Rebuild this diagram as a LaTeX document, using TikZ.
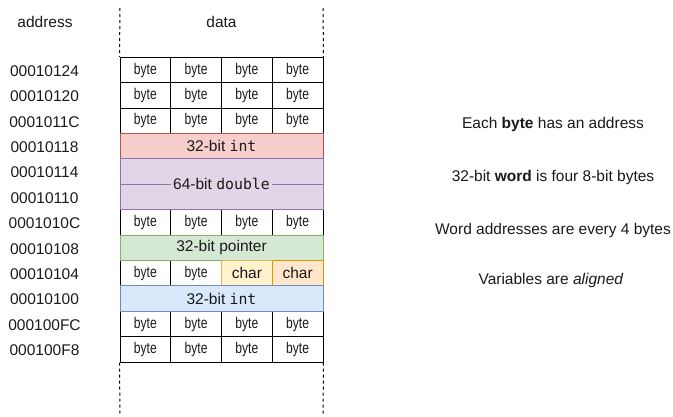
\documentclass[tikz,border=0pt]{standalone}
\usepackage{fontspec}
\setmainfont{Liberation Sans}
\newfontfamily\narrowfont[FakeStretch=0.78]{Liberation Sans}
\newfontfamily\codefont{DejaVu Sans Mono}
\definecolor{txt}{HTML}{1A1A1A}
\definecolor{redf}{HTML}{F8CECC}\definecolor{redd}{HTML}{B85450}
\definecolor{purf}{HTML}{E1D5E7}\definecolor{purd}{HTML}{9673A6}
\definecolor{grnf}{HTML}{D5E8D4}\definecolor{grnd}{HTML}{82B366}
\definecolor{yelf}{HTML}{FFF2CC}\definecolor{yeld}{HTML}{D6B656}
\definecolor{orf}{HTML}{FFE6CC}\definecolor{ord}{HTML}{D79B00}
\definecolor{bluf}{HTML}{DAE8FC}\definecolor{blud}{HTML}{6C8EBF}
\newcommand{\mainsize}{\fontsize{15.5}{18}\selectfont}
\newcommand{\codetxt}[1]{{\codefont\fontsize{14.8}{18}\selectfont #1}}
\begin{document}
\begin{tikzpicture}[x=1pt,y=-1pt,
  lbl/.style={inner sep=0pt, text=txt, font=\mainsize},
  cell/.style={draw=black, line width=1pt, minimum width=50.75pt, minimum height=25.4pt,
    inner sep=0pt, text=txt, font=\mainsize, anchor=center},
  bytecell/.style={cell, font=\mainsize\narrowfont},
  widecell/.style={cell, minimum width=203pt},
  guide/.style={draw=black, line width=1pt, dash pattern=on 3pt off 3pt}]
\useasboundingbox (0,0) rectangle (673,416);

% plain byte cells
\foreach \r in {0,1,2,6,10,11}{
  \foreach \c in {0,...,3}{
    \node[bytecell] (b\r-\c) at ({145.375+50.75*\c},{70+25.4*\r}) {byte};
  }
}
\node[bytecell] (b8-0) at (145.375,273.2) {byte};
\node[bytecell] (b8-1) at (196.125,273.2) {byte};

% coloured cells
\node[widecell, fill=redf, draw=redd] (int1) at (221.5,146.2) {32-bit \codetxt{int}};
\node[widecell, minimum height=50.8pt, fill=purf, draw=purd] (dbl) at (221.5,184.3) {};
\node[lbl, inner xsep=2pt] (dbllab) at (dbl.center) {64-bit \codetxt{double}};
\draw[purd, line width=1pt] (dbl.west) -- (dbllab.west);
\draw[purd, line width=1pt] (dbllab.east) -- (dbl.east);
\node[widecell, fill=grnf, draw=grnd] (ptr) at (221.5,247.8) {32-bit pointer};
\node[cell, fill=yelf, draw=yeld] (ch1) at (246.875,273.2) {char};
\node[cell, fill=orf, draw=ord] (ch2) at (297.625,273.2) {char};
\node[widecell, fill=bluf, draw=blud] (int2) at (221.5,298.6) {32-bit \codetxt{int}};

% dashed guides
\coordinate (lt) at (120,8);
\coordinate (rt) at (323,8);
\coordinate (lb) at (120,416);
\coordinate (rb) at (323,416);
\draw[guide] (lt) -- (b0-0.north west);
\draw[guide] (rt) -- (b0-3.north east);
\draw[guide] (b11-0.south west) -- (lb);
\draw[guide] (b11-3.south east) -- (rb);

% headers
\node[lbl] (haddr) at (45,22) {address};
\node[lbl] (hdata) at (221.5,22) {data};

% addresses
\foreach \a [count=\i from 0] in {00010124,00010120,0001011C,00010118,00010114,00010110,0001010C,00010108,00010104,00010100,000100FC,000100F8}{
  \node[lbl] (addr\i) at (44.5,{71+25.4*\i}) {\a};
}

% notes
\node[lbl] (n1) at (553,124) {Each \textbf{byte} has an address};
\node[lbl] (n2) at (553,177) {32-bit \textbf{word} is four 8-bit bytes};
\node[lbl] (n3) at (553,230) {Word addresses are every 4 bytes};
\node[lbl] (n4) at (551,280) {Variables are \textit{aligned}};
\end{tikzpicture}
\end{document}
